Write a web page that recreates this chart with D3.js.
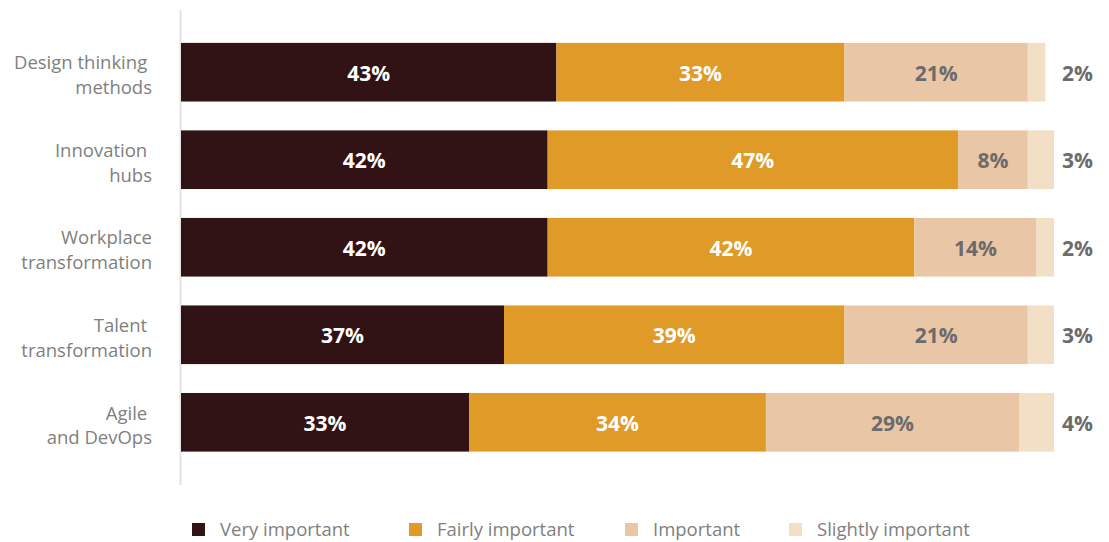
<!DOCTYPE html>
<html>
<head>
<meta charset="utf-8">
<script src="https://cdn.jsdelivr.net/npm/d3@7"></script>
<style>
  html, body { margin: 0; padding: 0; background: #fff; }
  svg { display: block; font-family: "Open Sans", "Noto Sans", sans-serif; }
</style>
</head>
<body>
<svg id="chart" width="1109" height="542"></svg>
<script>
// Importance ratings per practice (percent of respondents)
const categories = [
  ["Design thinking\u00a0", "methods"],
  ["Innovation\u00a0", "hubs"],
  ["Workplace", "transformation"],
  ["Talent\u00a0", "transformation"],
  ["Agile\u00a0", "and DevOps"]
];
const seriesNames = ["Very important", "Fairly important", "Important", "Slightly important"];
const veryImportant     = [43, 42, 42, 37, 33];
const fairlyImportant   = [33, 47, 42, 39, 34];
const important         = [21, 8, 14, 21, 29];
const slightlyImportant = [2, 3, 2, 3, 4];
const seriesColors = ["#311215", "#DF9A28", "#E9C6A5", "#F3DFC5"];
const labelColors  = ["#ffffff", "#ffffff", "#6b6b6b", "#6b6b6b"];

const seriesValues = [veryImportant, fairlyImportant, important, slightlyImportant];
const rows = categories.map((c, i) => {
  const r = { key: c.join(" ") };
  seriesNames.forEach((s, j) => { r[s] = seriesValues[j][i]; });
  return r;
});

const svg = d3.select("#chart");
const x = d3.scaleLinear().domain([0, 100]).range([181, 1054]);
const y = d3.scaleBand().domain(rows.map(r => r.key)).range([7, 487.5]).paddingInner(0.33).paddingOuter(0.41);

const stacked = d3.stack().keys(seriesNames)(rows);

// vertical baseline
svg.append("line")
  .attr("x1", x(0) - 0.5).attr("x2", x(0) - 0.5)
  .attr("y1", 10).attr("y2", 485)
  .attr("stroke", "#e3e3e3").attr("stroke-width", 2);

const layers = svg.selectAll("g.layer").data(stacked).join("g")
  .attr("class", "layer")
  .attr("fill", (d, i) => seriesColors[i]);

layers.selectAll("rect").data(d => d).join("rect")
  .attr("x", d => x(d[0]))
  .attr("y", d => y(d.data.key))
  .attr("width", d => x(d[1]) - x(d[0]))
  .attr("height", y.bandwidth());

// value labels: inside the first three segments, outside for the last
stacked.forEach((layer, i) => {
  const last = i === stacked.length - 1;
  svg.append("g").selectAll("text").data(layer).join("text")
    .attr("x", d => last ? 1062 : (x(d[0]) + x(d[1])) / 2)
    .attr("y", d => y(d.data.key) + y.bandwidth() / 2)
    .attr("dy", "0.4em")
    .attr("text-anchor", last ? "start" : "middle")
    .attr("font-size", 21)
    .attr("font-weight", 700)
    .attr("fill", labelColors[i])
    .text(d => (d[1] - d[0]) + "%");
});

// category labels
const catG = svg.append("g");
rows.forEach((r, i) => {
  const t = catG.append("text")
    .attr("text-anchor", "end")
    .attr("font-size", 18.5)
    .attr("fill", "#808080")
    .attr("y", y(r.key) + y.bandwidth() / 2);
  categories[i].forEach((line, k) => {
    t.append("tspan").attr("x", 152).attr("dy", k === 0 ? "-0.15em" : "1.35em").text(line);
  });
});

// legend
const legendX = [192, 409, 625, 789];
const legend = svg.append("g").selectAll("g").data(seriesNames).join("g")
  .attr("transform", (d, i) => `translate(${legendX[i]},530)`);
legend.append("rect")
  .attr("x", 0).attr("y", -7).attr("width", 13).attr("height", 13)
  .attr("fill", (d, i) => seriesColors[i]);
legend.append("text")
  .attr("x", 28).attr("dy", "0.35em")
  .attr("font-size", 18.5).attr("fill", "#808080")
  .text(d => d);
</script>
</body>
</html>
